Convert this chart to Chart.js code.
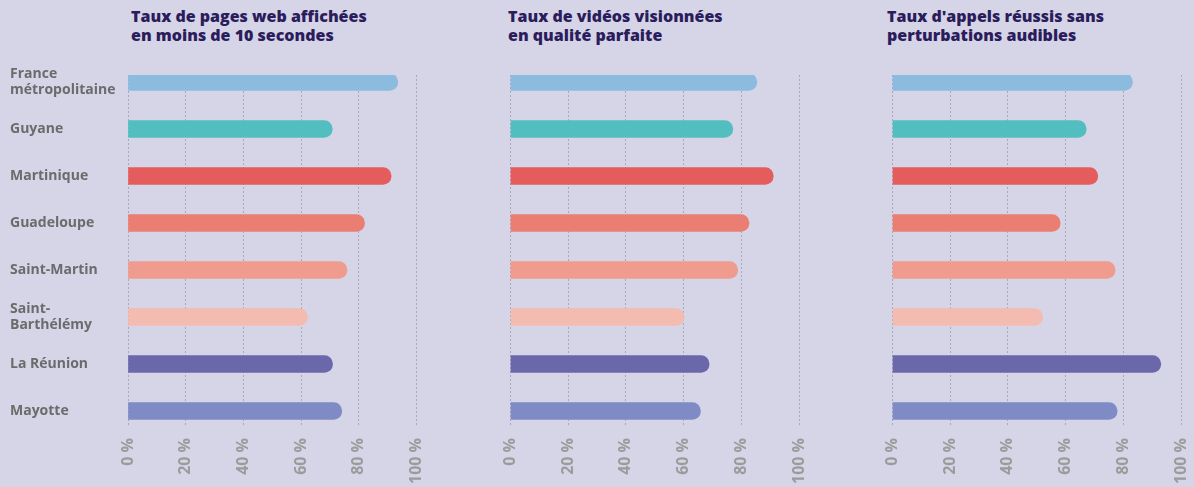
<!DOCTYPE html>
<html><head><meta charset="utf-8">
<script src="https://cdn.jsdelivr.net/npm/chart.js@4"></script>
<style>
html,body{margin:0;padding:0;background:#d6d4e7;width:1194px;height:487px;overflow:hidden;font-family:"Open Sans",sans-serif}
.title{position:absolute;top:7px;font-weight:800;font-size:16px;line-height:18.5px;color:#2b1d5c;white-space:nowrap}
canvas{position:absolute;top:0}
</style></head><body>
<div class="title" style="left:131px">Taux de pages web affichées<br>en moins de 10 secondes</div>
<div class="title" style="left:508px">Taux de vidéos visionnées<br>en qualité parfaite</div>
<div class="title" style="left:887px">Taux d'appels réussis sans<br>perturbations audibles</div>
<canvas id="c1" width="440" height="487" style="left:0"></canvas>
<canvas id="c2" width="340" height="487" style="left:480px"></canvas>
<canvas id="c3" width="334" height="487" style="left:860px"></canvas>
<script>
const categories = [['France','métropolitaine'],'Guyane','Martinique','Guadeloupe','Saint-Martin',['Saint-','Barthélémy'],'La Réunion','Mayotte'];
const pagesWeb = [93.5, 70.8, 91.2, 82.0, 75.9, 62.2, 70.9, 74.1];
const videos   = [85.3, 77.0, 91.0, 82.6, 78.7, 60.2, 68.8, 65.8];
const appels   = [83.1, 67.1, 71.1, 58.1, 77.1, 52.0, 92.9, 77.8];
const xTicks = [0, 20, 40, 60, 80, 100];
const barColors = ['#8bbbdf','#52bec0','#e55c5c','#eb7e73','#ef9b8e','#f4bbb0','#6a68ab','#7f8bc5'];

function makeChart(id, values, showLabels, pad) {
  new Chart(document.getElementById(id), {
    type: 'bar',
    data: {
      datasets: [{
        data: values.map((v, i) => ({x: v, y: i})),
        backgroundColor: barColors,
        borderWidth: 0,
        borderRadius: 9,
        borderSkipped: 'start',
        barThickness: 17
      }]
    },
    options: {
      indexAxis: 'y',
      responsive: false,
      animation: false,
      layout: {padding: pad},
      plugins: {legend: {display: false}, tooltip: {enabled: false}},
      scales: {
        x: {
          type: 'linear', position: 'bottom', min: 0, max: 100,
          afterBuildTicks: a => { a.ticks = xTicks.map(v => ({value: v})); },
          afterFit: s => { s.height = 60; s.paddingLeft = 0; s.paddingRight = 0; },
          grid: {color: '#a9a7bb', lineWidth: 1, drawTicks: false},
          border: {display: false, dash: [2, 2]},
          ticks: {
            minRotation: 90, maxRotation: 90, padding: 11, autoSkip: false,
            color: '#9b9b9b', font: {family: 'Open Sans', size: 16, weight: 'bold'},
            callback: v => v + ' %'
          }
        },
        y: {
          type: 'linear', reverse: true, offset: false, min: -0.149, max: 7.34,
          display: showLabels,
          afterBuildTicks: a => { a.ticks = categories.map((c, i) => ({value: i})); },
          afterFit: s => { if (showLabels) s.width = 118; s.paddingTop = 0; s.paddingBottom = 0; },
          grid: {display: false},
          border: {display: false},
          ticks: {
            crossAlign: 'far', autoSkip: false,
            color: '#6b6b6b', font: {family: 'Open Sans', size: 14, weight: 'bold', lineHeight: 1.15},
            callback: v => categories[v]
          }
        }
      }
    }
  });
}
makeChart('c1', pagesWeb, true, {left: 10, right: 23.5, top: 75, bottom: 0});
makeChart('c2', videos, false, {left: 30.3, right: 20.7, top: 75, bottom: 0});
makeChart('c3', appels, false, {left: 32.3, right: 12.7, top: 75, bottom: 0});
</script>
</body></html>
